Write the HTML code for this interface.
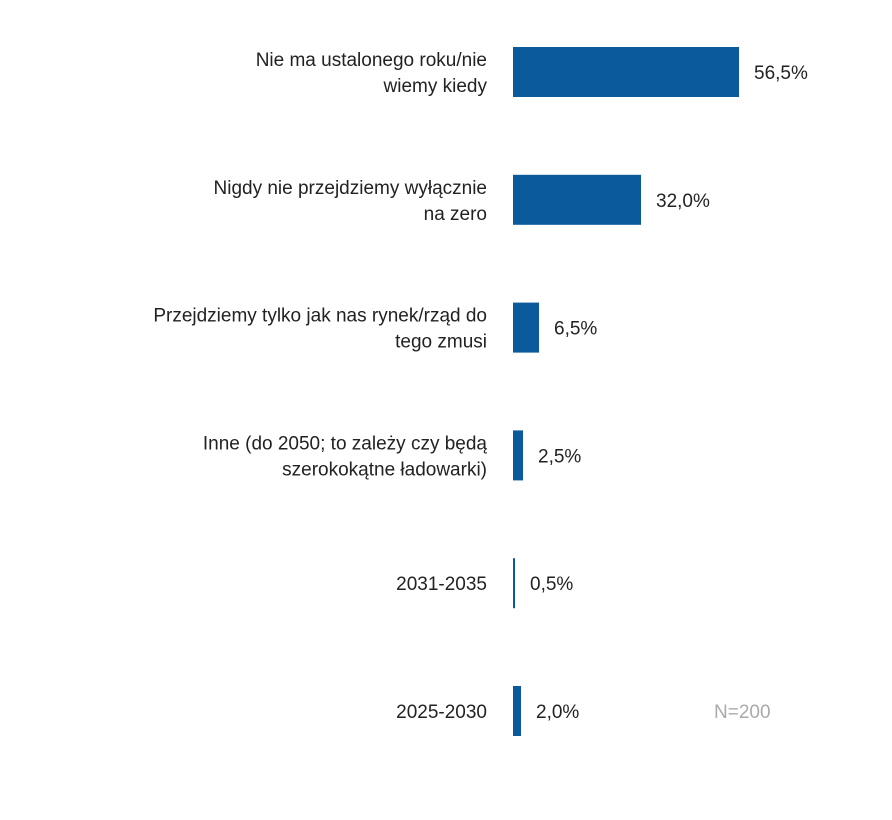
<!DOCTYPE html>
<html><head><meta charset="utf-8"><style>
body{margin:0;background:#fff;}
svg text{font-family:"Liberation Sans",sans-serif;}
</style></head><body>
<svg id="chart" width="892" height="815" viewBox="0 0 892 815"></svg>
<script>
const categories=[["Nie ma ustalonego roku/nie","wiemy kiedy"],["Nigdy nie przejdziemy wyłącznie","na zero"],["Przejdziemy tylko jak nas rynek/rząd do","tego zmusi"],["Inne (do 2050; to zależy czy będą","szerokokątne ładowarki)"],["2031-2035"],["2025-2030"]];
const values=[56.5,32.0,6.5,2.5,0.5,2.0];
const valueLabels=["56,5%","32,0%","6,5%","2,5%","0,5%","2,0%"];
const svg=document.getElementById('chart');
const NS="http://www.w3.org/2000/svg";
const x0=513, pxPer=4;
function xScale(v){return v*pxPer;}
function yScale(i){return 47+i*127.8;}
const barH=50;
values.forEach((v,i)=>{
  const y=yScale(i);
  const r=document.createElementNS(NS,'rect');
  r.setAttribute('x',x0);r.setAttribute('y',y);
  r.setAttribute('width',Math.max(xScale(v),1.5));r.setAttribute('height',barH);
  r.setAttribute('fill','#0b5a9b');
  
  
  svg.appendChild(r);
  const t=document.createElementNS(NS,'text');
  t.setAttribute('x',x0+Math.max(xScale(v),1.5)+15);t.setAttribute('y',y+barH/2+7);
  t.setAttribute('font-size','19');t.setAttribute('fill','#222');
  t.textContent=valueLabels[i];
  
  
  svg.appendChild(t);
  const lines=categories[i];
  const lbl=document.createElementNS(NS,'text');
  lbl.setAttribute('text-anchor','end');lbl.setAttribute('font-size','19');lbl.setAttribute('fill','#222');
  
  
  const cy=y+barH/2+7;
  lines.forEach((ln,j)=>{
    const ts=document.createElementNS(NS,'tspan');
    ts.setAttribute('x',487);
    ts.setAttribute('y',lines.length===2?cy-13+j*26:cy);
    ts.textContent=ln;
    lbl.appendChild(ts);
  });
  svg.appendChild(lbl);
});
const n=document.createElementNS(NS,'text');
n.setAttribute('x',714);n.setAttribute('y',718);n.setAttribute('font-size','19');n.setAttribute('fill','#aaa');
n.textContent='N=200';


svg.appendChild(n);
</script>
</body></html>
